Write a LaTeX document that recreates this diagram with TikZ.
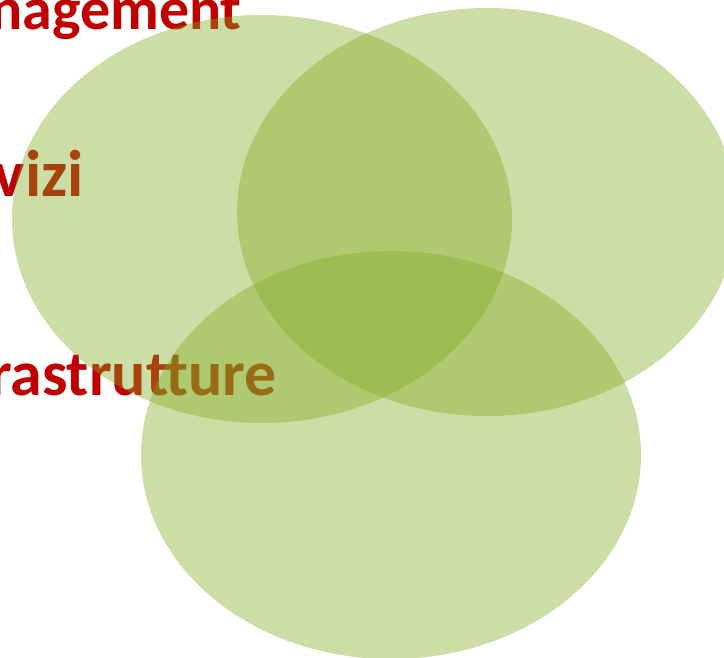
\documentclass[tikz,border=0pt]{standalone}
\usepackage{fontspec}
\setmainfont{Carlito}
\usetikzlibrary{shapes.geometric}
\definecolor{vennred}{HTML}{C00000}
\definecolor{venngreen}{RGB}{130,170,33}
\tikzset{
  lbl/.style={text=vennred, font=\fontsize{60}{70}\selectfont\bfseries, inner sep=0pt, anchor=base east},
  blob/.style={ellipse, minimum width=500pt, minimum height=408pt, inner sep=0pt, fill=venngreen, fill opacity=0.4, draw=none}
}
\begin{document}
\begin{tikzpicture}[x=1pt,y=-1pt]
\useasboundingbox (0,0) rectangle (724,657);
\clip (0,0) rectangle (724,657);
\node[lbl] (t1) at (242,29) {management};
\node[lbl, font=\fontsize{66}{76}\selectfont\bfseries] (t2) at (84,196) {servizi};
\node[lbl, font=\fontsize{64}{74}\selectfont\bfseries] (t3) at (277,395) {infrastrutture};
\node[blob] (e1) at (262,219) {};
\node[blob] (e2) at (487,212) {};
\node[blob] (e3) at (391,455) {};
\end{tikzpicture}
\end{document}
